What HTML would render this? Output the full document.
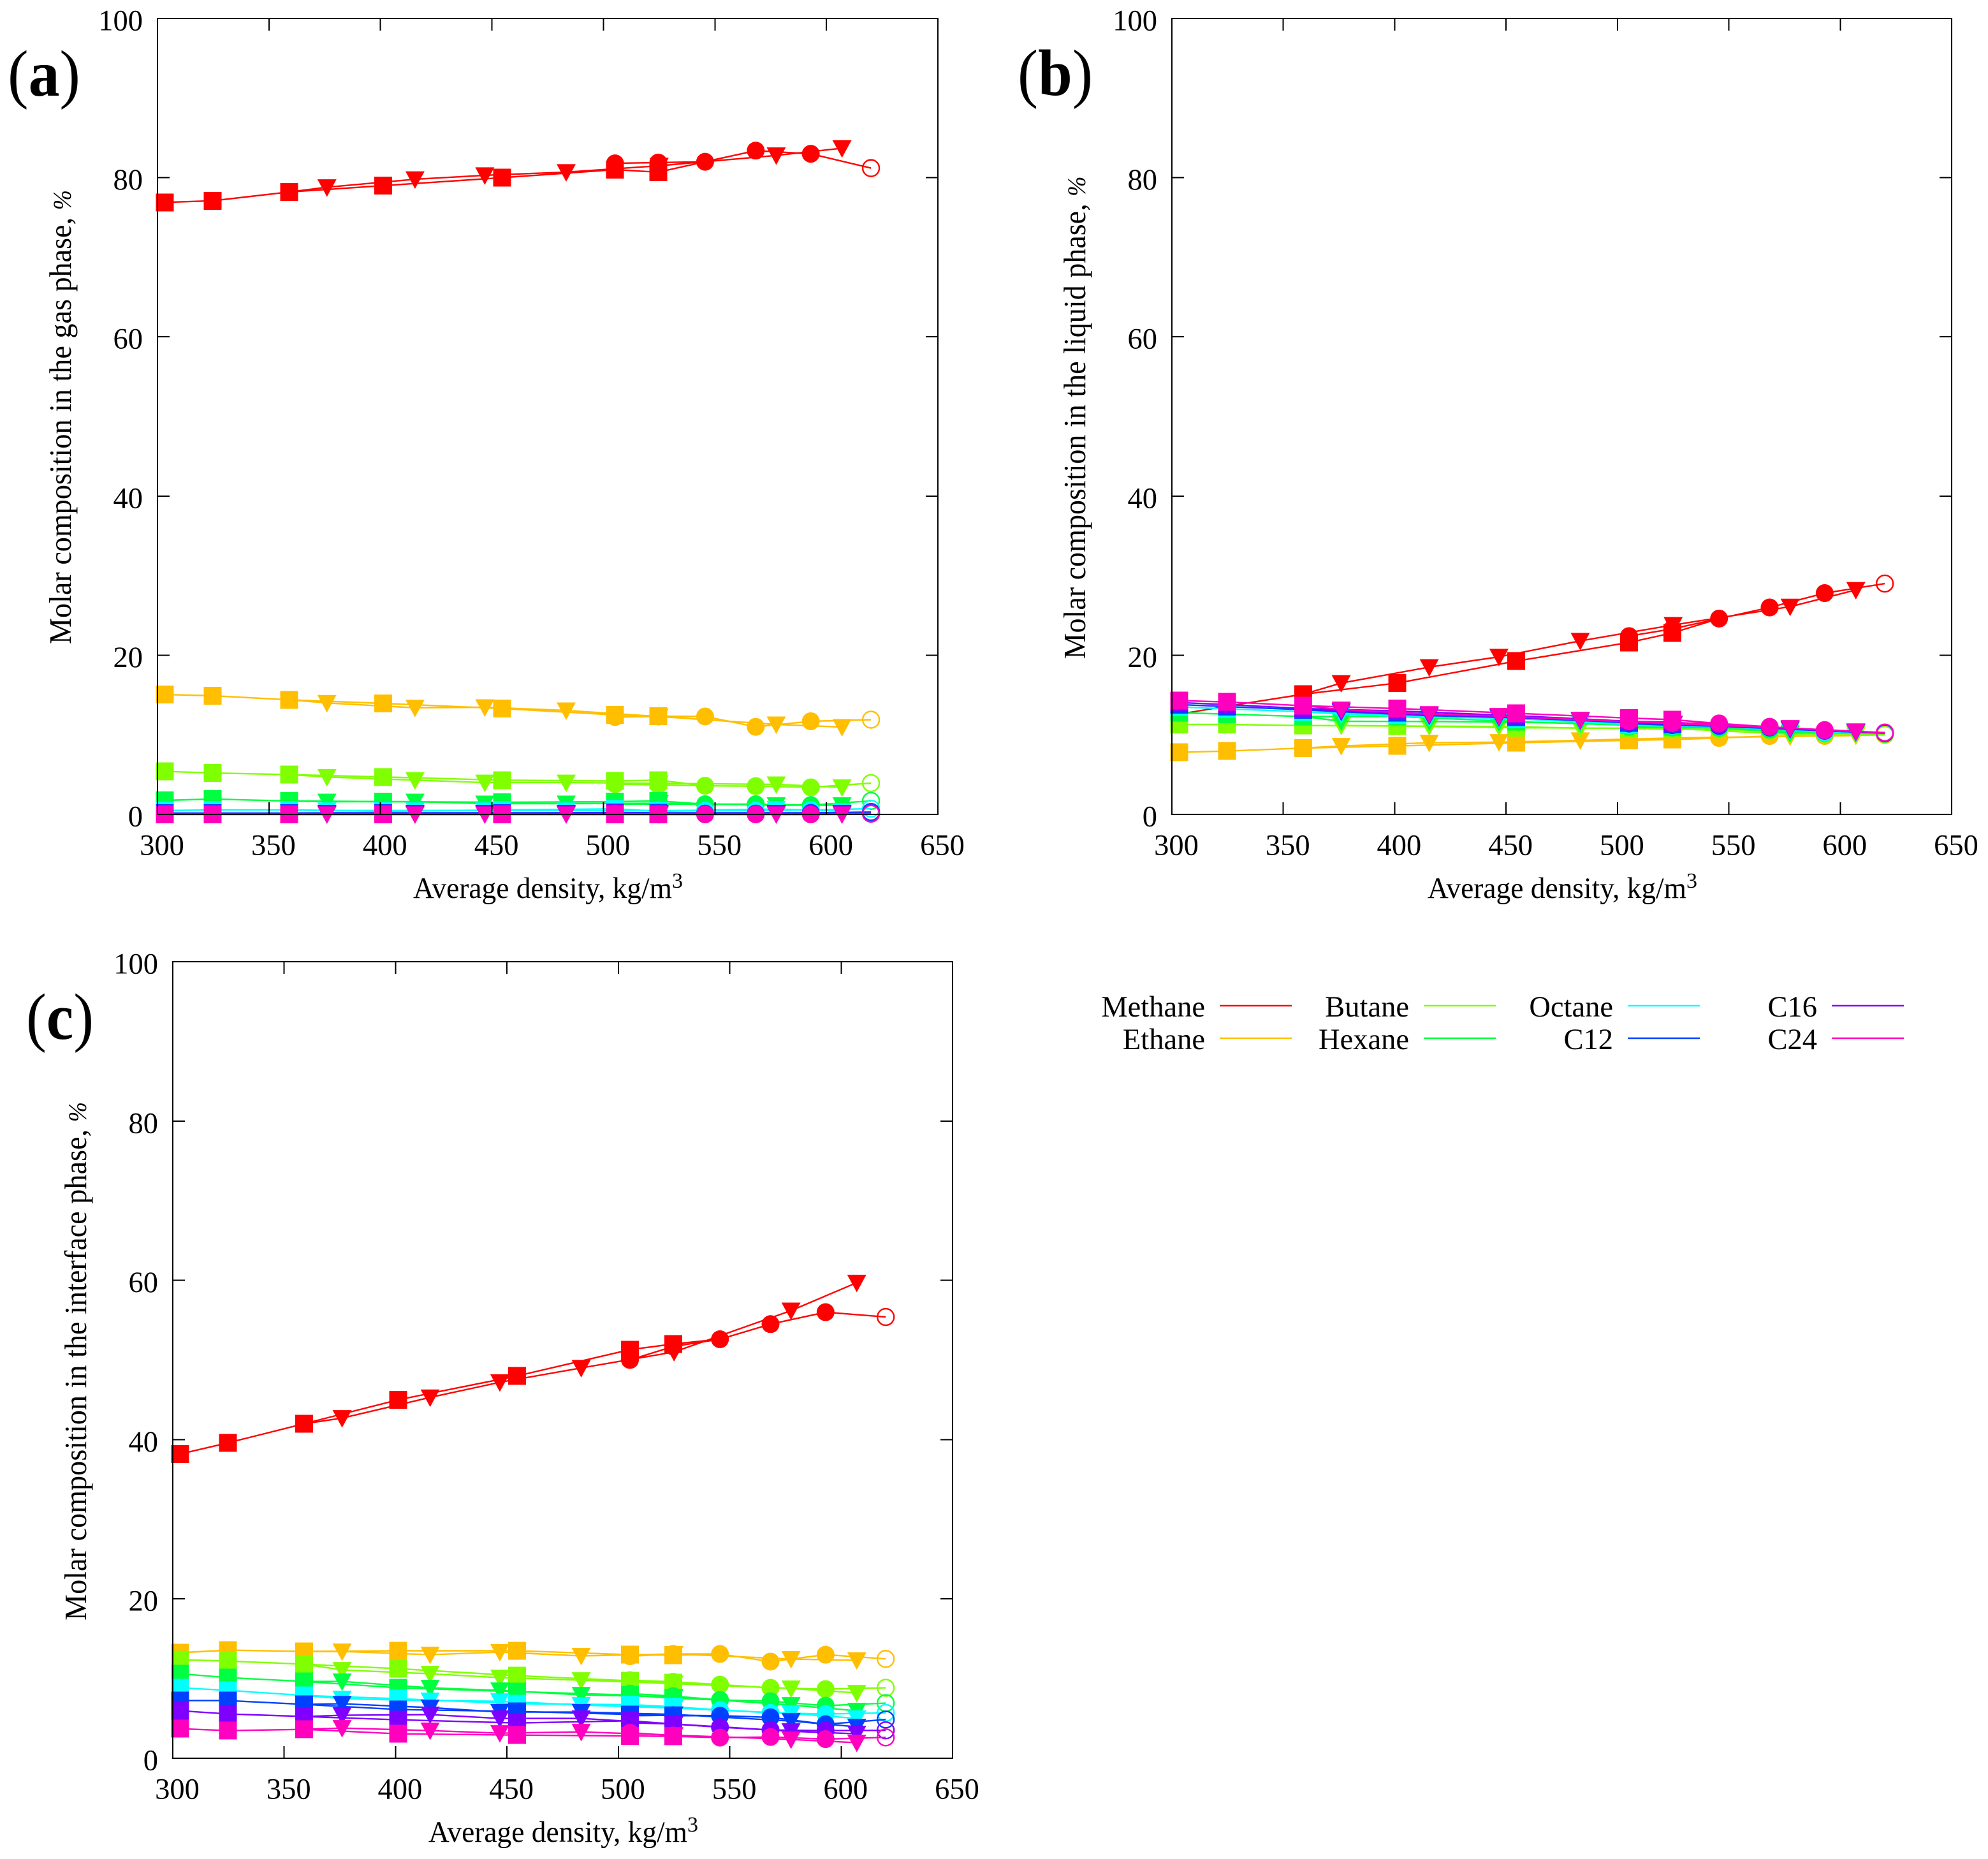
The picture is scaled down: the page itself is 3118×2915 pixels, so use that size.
<!DOCTYPE html>
<html lang="en">
<head>
<meta charset="utf-8">
<title>Molar composition versus average density</title>
<style>
html,body{margin:0;padding:0;background:#fff;}
svg{display:block;}
text{font-family:"Liberation Serif",serif;fill:#000;}
</style>
</head>
<body>
<svg id="chart" xmlns="http://www.w3.org/2000/svg" width="3118" height="2915" viewBox="0 0 3118 2915"></svg>
<script>
const components = ['Methane','Ethane','Butane','Hexane','Octane','C12','C16','C24'];
const palette = ['#ff0000','#ffbf00','#80ff00','#00ff40','#00ffff','#0040ff','#8000ff','#ff00bf'];
const xTicks = [300,350,400,450,500,550,600,650];
const yTicks = [0,20,40,60,80,100];

const squareDensity = [303.3,324.8,359,401.2,454.6,505.2,524.6];
const triangleDensity = [376,415.5,446.8,483.3,525,577.5,607];
const circleDensity = [505.2,524.6,545.6,568.3,593,620];

const gasSquare = [
  [76.9,77.1,78.2,79,80,81,80.7],
  [15.06,14.9,14.4,13.94,13.3,12.5,12.34],
  [5.4,5.2,5,4.7,4.3,4.2,4.3],
  [1.76,1.92,1.68,1.6,1.52,1.6,1.7],
  [0.48,0.56,0.56,0.4,0.56,0.7,0.4],
  [0.16,0.16,0.16,0.16,0.16,0.25,0.2],
  [0.1,0.1,0.1,0.1,0.1,0.15,0.1],
  [0,0,0,0,0,0,0]
];
const gasTriangle = [
  [78.8,79.8,80.3,80.7,81.5,82.8,83.7],
  [14,13.4,13.46,13.06,12.3,11.3,10.98],
  [4.7,4.3,4,4,3.9,3.77,3.4],
  [1.6,1.6,1.36,1.36,1.4,1.15,1.15],
  [0.5,0.5,0.5,0.5,0.45,0.67,0.43],
  [0.2,0.2,0.2,0.2,0.2,0.2,0.2],
  [0.1,0.1,0.1,0.1,0.1,0.1,0.1],
  [0,0,0,0,0,0,0]
];
const gasCircle = [
  [81.8,81.9,82,83.4,83,81.2],
  [12.23,12.3,12.3,11,11.7,11.9],
  [3.8,3.7,3.6,3.55,3.4,3.93],
  [1.3,1.3,1.28,1.28,1.17,1.7],
  [0.5,0.5,0.48,0.48,0.55,0.72],
  [0.2,0.15,0.1,0.1,0.2,0.3],
  [0.15,0.1,0.1,0.1,0.1,0.1],
  [0.1,0.05,0,0,0,0.1]
];

const liquidSquare = [
  [12.6,13.6,15.1,16.5,19.26,21.6,22.8],
  [7.8,7.96,8.33,8.6,9,9.3,9.4],
  [11.3,11.3,11.16,11.1,10.9,10.8,10.7],
  [12.77,12.6,12.3,12.3,11.65,11.2,11],
  [13.5,13.25,12.9,12.5,12,11.3,11.2],
  [13.8,13.54,13.15,12.8,12.2,11.5,11.3],
  [14.05,13.8,13.3,13,12.4,11.7,11.6],
  [14.3,14.13,13.65,13.3,12.7,12.1,11.9]
];
const liquidTriangle = [
  [16.5,18.5,19.8,21.8,23.8,26.1,28.2],
  [8.6,9,9.08,9.3,9.6,9.8,9.9],
  [11.16,11.08,11.05,10.84,10.8,10.07,10.1],
  [11.7,11.67,11.6,11.46,11.3,10.25,10.25],
  [12.6,12.2,12.1,11.7,11.3,10.6,10.3],
  [12.9,12.4,12.2,11.8,11.3,10.7,10.35],
  [13,12.5,12.3,11.85,11.35,10.8,10.4],
  [13.17,12.6,12.37,11.9,11.4,10.85,10.44]
];
const liquidCircle = [
  [22.4,23.3,24.6,26,27.8,29],
  [9.3,9.5,9.6,9.85,9.85,10],
  [10.85,10.75,10.65,10.5,10.1,10.1],
  [11,10.9,10.87,10.65,10.2,10.15],
  [11.2,11.1,11.06,10.9,10.3,10.2],
  [11.4,11.2,11.1,10.9,10.5,10.2],
  [11.6,11.4,11.2,11,10.5,10.25],
  [11.7,11.5,11.43,11,10.6,10.28]
];

const interfaceSquare = [
  [38.2,39.6,42,45,48,51.3,52],
  [13.25,13.57,13.4,13.49,13.49,13,12.95],
  [12.37,12.2,11.8,11.24,10.36,9.72,9.48],
  [10.6,10.12,9.64,8.84,8.36,7.93,7.53],
  [8.84,8.52,7.88,7.48,6.84,6.73,6.46],
  [7.24,7.24,6.76,6.12,5.88,5.5,5.34],
  [5.96,5.56,5.24,4.83,4.43,4.7,4.3],
  [3.71,3.47,3.63,3.07,2.91,2.8,2.75]
];
const interfaceTriangle = [
  [42.7,45.3,47.2,49,51,56.2,59.7],
  [13.4,13,13.33,12.85,13.1,12.45,12.3],
  [11.08,10.6,10.12,9.8,9.37,8.76,8.2],
  [9.64,8.84,8.52,7.96,7.7,6.68,5.96],
  [7.48,7.24,7.16,6.68,6.3,5.63,5],
  [6.84,6.36,5.8,5.8,5.5,4.67,3.95],
  [5.4,5.48,5,5,4.3,3.39,3.07],
  [3.79,3.47,3.15,3.31,2.9,2.35,1.95]
];
const interfaceCircle = [
  [50,51.7,52.6,54.5,56,55.4],
  [12.8,13.1,13.09,12.13,13,12.47],
  [9.8,9.6,9.24,8.84,8.68,8.84],
  [8.12,7.8,7.32,7.16,6.6,6.92],
  [6.5,6.4,6.06,5.7,5.56,5.69],
  [5.34,5.4,5.34,5.13,4.27,4.86],
  [4.46,4.3,3.9,3.55,3.47,3.5],
  [3.2,2.85,2.59,2.67,2.4,2.62]
];

const panels = [
  {key:'gas', tag:'a', left:247, right:1471, top:29, bottom:1277,
   title:'Molar composition in the gas phase, ', titleLen:712, titleMid:654,
   tagX:12, tagY:150, tagLen:114,
   square:gasSquare, triangle:gasTriangle, circle:gasCircle},
  {key:'liquid', tag:'b', left:1838, right:3061, top:29, bottom:1277,
   title:'Molar composition in the liquid phase, ', titleLen:757, titleMid:655,
   tagX:1596, tagY:149, tagLen:118,
   square:liquidSquare, triangle:liquidTriangle, circle:liquidCircle},
  {key:'interface', tag:'c', left:271, right:1494, top:1508, bottom:2757,
   title:'Molar composition in the interface phase, ', titleLen:813, titleMid:2134.5,
   tagX:41, tagY:1629, tagLen:106,
   square:interfaceSquare, triangle:interfaceTriangle, circle:interfaceCircle}
];

const SVGNS = 'http://www.w3.org/2000/svg';
const root = document.getElementById('chart');

function mk(tag, attrs, parent){
  const el = document.createElementNS(SVGNS, tag);
  for (const k in attrs) el.setAttribute(k, attrs[k]);
  (parent || root).appendChild(el);
  return el;
}
function xScale(p, v){ return p.left + (v - 300) * (p.right - p.left) / 350; }
function yScale(p, v){ return p.bottom - v * (p.bottom - p.top) / 100; }

function drawLine(p, group, pts, color){
  const el = mk('polyline', {points: pts.map(q => q[0].toFixed(1)+','+q[1].toFixed(1)).join(' '), fill:'none', stroke:color, 'stroke-width':2.4, 'stroke-linejoin':'miter'}, group);
  
  
}
function drawSquare(group, x, y, color){
  const el = mk('rect', {x:x-14, y:y-14, width:28, height:28, fill:color, 'shape-rendering':'crispEdges'}, group);
  
  
}
function drawTriangle(group, x, y, color){
  const el = mk('polygon', {points:(x-15)+','+(y-12.5)+' '+(x+15)+','+(y-12.5)+' '+x+','+(y+15), fill:color}, group);
  
  
}
function drawCircle(group, x, y, color, open){
  const el = mk('circle', open ? {cx:x, cy:y, r:13, fill:'none', stroke:color, 'stroke-width':2.4} : {cx:x, cy:y, r:14, fill:color}, group);
  
  
}

function drawPanel(p){
  const g = mk('g', {});
  
  

  components.forEach(function(name, i){
    const color = palette[i];
    const sg = mk('g', {}, g);
    
    

    const sq = squareDensity.map((d, j) => [xScale(p, d), yScale(p, p.square[i][j])]);
    const tr = triangleDensity.map((d, j) => [xScale(p, d), yScale(p, p.triangle[i][j])]);
    const ci = circleDensity.map((d, j) => [xScale(p, d), yScale(p, p.circle[i][j])]);

    drawLine(p, sg, sq.concat([ci[2]]), color);
    drawLine(p, sg, [sq[2]].concat(tr), color);
    drawLine(p, sg, ci, color);

    sq.forEach(q => drawSquare(sg, q[0], q[1], color));
    tr.forEach(q => drawTriangle(sg, q[0], q[1], color));
    ci.forEach((q, j) => drawCircle(sg, q[0], q[1], color, j === ci.length - 1));
  });

  const frame = mk('rect', {x:p.left, y:p.top, width:p.right-p.left, height:p.bottom-p.top, fill:'none', stroke:'#000', 'stroke-width':2, 'shape-rendering':'crispEdges'}, g);
  
  

  xTicks.forEach(function(v){
    const x = xScale(p, v);
    const t1 = mk('line', {x1:x, x2:x, y1:p.bottom, y2:p.bottom-19, stroke:'#000', 'stroke-width':2, 'shape-rendering':'crispEdges'}, g);
    
    
    const t2 = mk('line', {x1:x, x2:x, y1:p.top, y2:p.top+19, stroke:'#000', 'stroke-width':2, 'shape-rendering':'crispEdges'}, g);
    
    
    const lab = mk('text', {x:x+7, y:p.bottom+63.5, 'font-size':46.5, 'text-anchor':'middle'}, g);
    
    
    lab.textContent = String(v);
  });
  yTicks.forEach(function(v){
    const y = yScale(p, v);
    const t1 = mk('line', {x1:p.left, x2:p.left+19, y1:y, y2:y, stroke:'#000', 'stroke-width':2, 'shape-rendering':'crispEdges'}, g);
    
    
    const t2 = mk('line', {x1:p.right, x2:p.right-19, y1:y, y2:y, stroke:'#000', 'stroke-width':2, 'shape-rendering':'crispEdges'}, g);
    
    
    const lab = mk('text', {x:p.left-23, y:y+18.5, 'font-size':46.5, 'text-anchor':'end'}, g);
    
    
    lab.textContent = String(v);
  });

  const xt = mk('text', {x:p.left+401, y:p.bottom+131, 'font-size':46.5}, g);
  
  
  const xt1 = mk('tspan', {textLength:406, lengthAdjust:'spacingAndGlyphs'}, xt);
  xt1.textContent = 'Average density, kg/m';
  const xt2 = mk('tspan', {x:p.left+401+406, y:p.bottom+115, 'font-size':34}, xt);
  xt2.textContent = '3';

  const ytx = p.left - 136;
  const yt = mk('text', {x:0, y:0, 'font-size':49, 'text-anchor':'middle', textLength:p.titleLen, lengthAdjust:'spacingAndGlyphs', transform:'translate('+ytx+','+p.titleMid+') rotate(-90)'}, g);
  
  
  const ytMain = mk('tspan', {}, yt);
  ytMain.textContent = p.title;
  const ytUnit = mk('tspan', {'font-size':40, 'font-style':'italic'}, yt);
  ytUnit.textContent = '%';

  const tag = mk('text', {x:p.tagX, y:p.tagY, 'font-size':103, textLength:p.tagLen, lengthAdjust:'spacingAndGlyphs'}, g);
  
  
  const o = mk('tspan', {}, tag); o.textContent = '(';
  const b = mk('tspan', {'font-weight':'bold'}, tag); b.textContent = p.tag;
  const c = mk('tspan', {}, tag); c.textContent = ')';
}

panels.forEach(drawPanel);

const legendColumns = [
  {textX:1890, lineA:1913, lineB:2026},
  {textX:2210, lineA:2233, lineB:2346},
  {textX:2530, lineA:2553, lineB:2666},
  {textX:2850, lineA:2873, lineB:2986}
];
const legendRows = [{base:1594, line:1577},{base:1645, line:1628}];
const legend = mk('g', {});


components.forEach(function(name, i){
  const col = legendColumns[Math.floor(i / 2)];
  const row = legendRows[i % 2];
  const lab = mk('text', {x:col.textX, y:row.base, 'font-size':46.5, 'text-anchor':'end'}, legend);
  
  
  lab.textContent = name;
  const ln = mk('line', {x1:col.lineA, x2:col.lineB, y1:row.line, y2:row.line, stroke:palette[i], 'stroke-width':2.4}, legend);
  
  
});
</script>
</body>
</html>
